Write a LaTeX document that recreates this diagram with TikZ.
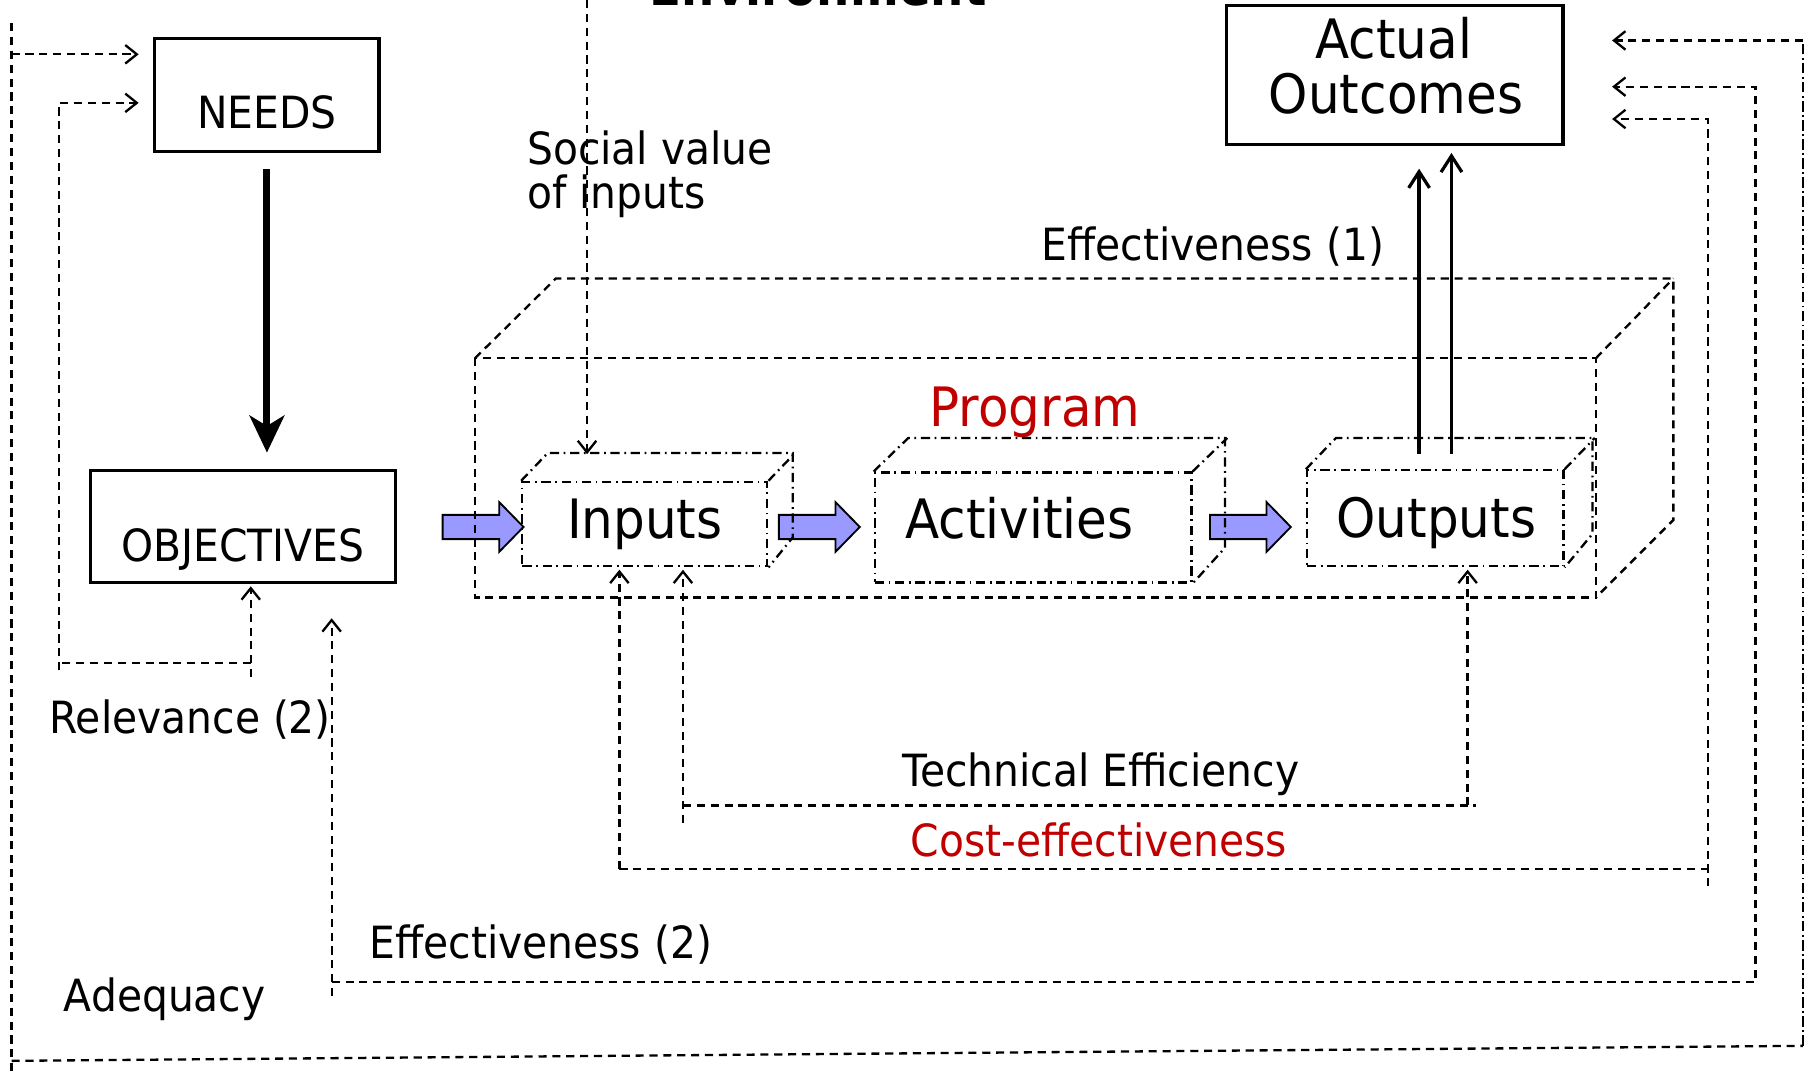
\documentclass[tikz,border=0pt]{standalone}
\usepackage{fontspec}
\setmainfont[FakeStretch=0.92]{DejaVu Sans}
\usetikzlibrary{arrows.meta}
\definecolor{arrblue}{RGB}{153,153,255}
\definecolor{progred}{RGB}{192,0,0}
\newcommand\lblfont{\fontsize{38.4}{39}\selectfont}
\newcommand\bigtxtfont{\fontsize{47}{49}\selectfont}
\newcommand\envfont{\fontsize{44}{46}\selectfont\bfseries}
\tikzset{
  box/.style={draw, line width=2.7pt, inner sep=0pt},
  cubeface/.style={draw, line width=2pt, inner sep=0pt, dash pattern=on 8pt off 4pt on 1.5pt off 4pt},
  ddot/.style={line width=2pt, dash pattern=on 8pt off 4pt on 1.5pt off 4pt},
  dline/.style={line width=2pt, dash pattern=on 7pt off 5pt},
  ddline/.style={line width=2pt, dash pattern=on 9pt off 3pt on 1.5pt off 3pt},
  lbl/.style={font=\lblfont, anchor=base, inner sep=0pt},
  biglbl/.style={font=\bigtxtfont, anchor=base, inner sep=0pt},
  barb/.style={-{Straight Barb[length=10pt,width=16pt]}},
  solidarr/.style={line width=2.8pt, -{Straight Barb[length=14pt,width=18pt]}},
  bigarrow/.style={line width=6pt, -{Stealth[length=32pt,width=30pt,inset=9pt]}},
  blockarr/.pic={\draw[line width=1.6pt, fill=arrblue, line join=miter]
     (0,-10.5) -- (49,-10.5) -- (49,-21.5) -- (70,0) -- (49,21.5) -- (49,10.5) -- (0,10.5) -- cycle;}
}
\begin{document}
\begin{tikzpicture}[x=1pt,y=-1pt]
\useasboundingbox (0,0) rectangle (1568,929);
\clip (0,0) rectangle (1568,929);
\fill[white] (0,0) rectangle (1568,929);

% ---- main boxes
\node[box, minimum width=194pt, minimum height=98pt] (needs) at (231,82) {};
\node[lbl] at (231,111) {NEEDS};
\node[box, minimum width=264pt, minimum height=97pt] (objectives) at (210,455.5) {};
\node[lbl] at (210,486) {OBJECTIVES};
\node[box, minimum width=291pt, minimum height=120pt] (actual) at (1207,65) {};
\node[biglbl] at (1206,50.5) {Actual};
\node[biglbl] at (1208,98) {Outcomes};

% ---- block arrows (drawn below dashed lines)
\pic at (383,456) {blockarr};
\pic at (674,456) {blockarr};
\pic at (1047,456) {blockarr};

% ---- program cuboid
\coordinate (pfl) at (411,310);
\coordinate (pfr) at (1381,310);
\coordinate (pbl) at (411,517);
\coordinate (pbr) at (1381,517);
\draw[dline] (pfl) rectangle (pbr);
\draw[dline] (pfl) -- (481,241) -- (1448,241) -- (1448,450) -- (pbr);
\draw[dline] (pfr) -- (1448,241);
\node[biglbl, text=progred] at (895.5,369) {Program};

% ---- small cuboids
\node[cubeface, minimum width=212pt, minimum height=73pt] (inputs) at (558,453.5) {};
\draw[ddot] (inputs.north west) -- ++(23,-24) -- ++(212,0) -- ++(0,73) -- (inputs.south east);
\draw[ddot] (inputs.north east) -- ++(23,-24);
\node[biglbl] at (558,466) {Inputs};

\node[cubeface, minimum width=274pt, minimum height=95pt] (activities) at (894,456.5) {};
\draw[ddot] (activities.north west) -- ++(30,-29) -- ++(274,0) -- ++(0,95) -- (activities.south east);
\draw[ddot] (activities.north east) -- ++(30,-29);
\node[biglbl] at (882,466) {Activities};

\node[cubeface, minimum width=222pt, minimum height=83pt] (outputs) at (1242,448.5) {};
\draw[ddot] (outputs.north west) -- ++(26,-27) -- ++(222,0) -- ++(0,83) -- (outputs.south east);
\draw[ddot] (outputs.north east) -- ++(26,-27);
\node[biglbl] at (1243,465) {Outputs};

% ---- free end coordinates
\coordinate (nA) at (120,47);
\coordinate (nR) at (120,89);
\coordinate (aA) at (1395,35);
\coordinate (aE) at (1395,75);
\coordinate (aC) at (1395,103);
\coordinate (socTop) at (508,0);
\coordinate (relB) at (217,586);
\coordinate (e2B) at (287,862);
\coordinate (e2T) at (287,535);
\coordinate (ceB) at (536,752);
\coordinate (teB) at (591,712);
\coordinate (teR) at (1270,697);
\coordinate (o1) at (1228,393);
\coordinate (o2) at (1256,393);

% ---- thick arrow needs -> objectives
\draw[bigarrow, shorten <=14pt, shorten >=14pt] (needs.south) -- (needs.south |- objectives.north);

% ---- outputs -> actual outcomes
\draw[solidarr] (o1) -- (1228,146);
\draw[solidarr, shorten >=6pt] (o2) -- (o2 |- actual.south);

% ---- social value of inputs
\draw[dline, barb] (socTop) -- (508,393);
\node[lbl, anchor=base west] at (456,142) {Social value};
\node[lbl, anchor=base west] at (456,180) {of inputs};

% ---- relevance loop
\draw[dline, barb, shorten >=2pt] (relB) -- (relB |- objectives.south);
\draw[dline] (217,574) -- (51,574);
\draw[dline, barb] (51,580) -- (51,89) -- (nR);
\node[lbl] at (164.5,635) {Relevance (2)};

% ---- adequacy loop
\draw[dline] (10,20) -- (10,929);
\draw[dline, barb] (10,47) -- (nA);
\draw[dline] (10,918) -- (1560,905);
\draw[ddline] (1560,905) -- (1560,35);
\draw[dline, barb] (1560,35) -- (aA);
\node[lbl] at (142.5,875) {Adequacy};

% ---- effectiveness (2) loop
\draw[dline, barb] (e2B) -- (e2T);
\draw[dline, barb] (287,850) -- (1519,850) -- (1519,75) -- (aE);
\node[lbl] at (468,829) {Effectiveness (2)};

% ---- cost-effectiveness loop
\draw[dline, barb, shorten >=2pt] (ceB) -- (ceB |- inputs.south);
\draw[dline] (ceB) -- (1478,752);
\draw[dline, barb] (1478,767) -- (1478,103) -- (aC);
\node[lbl, text=progred] at (951,741.5) {Cost-effectiveness};

% ---- technical efficiency loop
\draw[dline, barb, shorten >=2pt] (teB) -- (teB |- inputs.south);
\draw[dline] (591,697) -- (1277,697);
\draw[dline, barb, shorten >=2pt] (teR) -- (teR |- outputs.south);
\node[lbl] at (952.5,681) {Technical Efficiency};

% ---- effectiveness (1)
\node[lbl] at (1049.5,225) {Effectiveness (1)};

% ---- environment (cut off at top, as in the reference)
\node[font=\envfont, anchor=base, inner sep=0pt] at (708,5) {Environment};
\end{tikzpicture}
\end{document}
